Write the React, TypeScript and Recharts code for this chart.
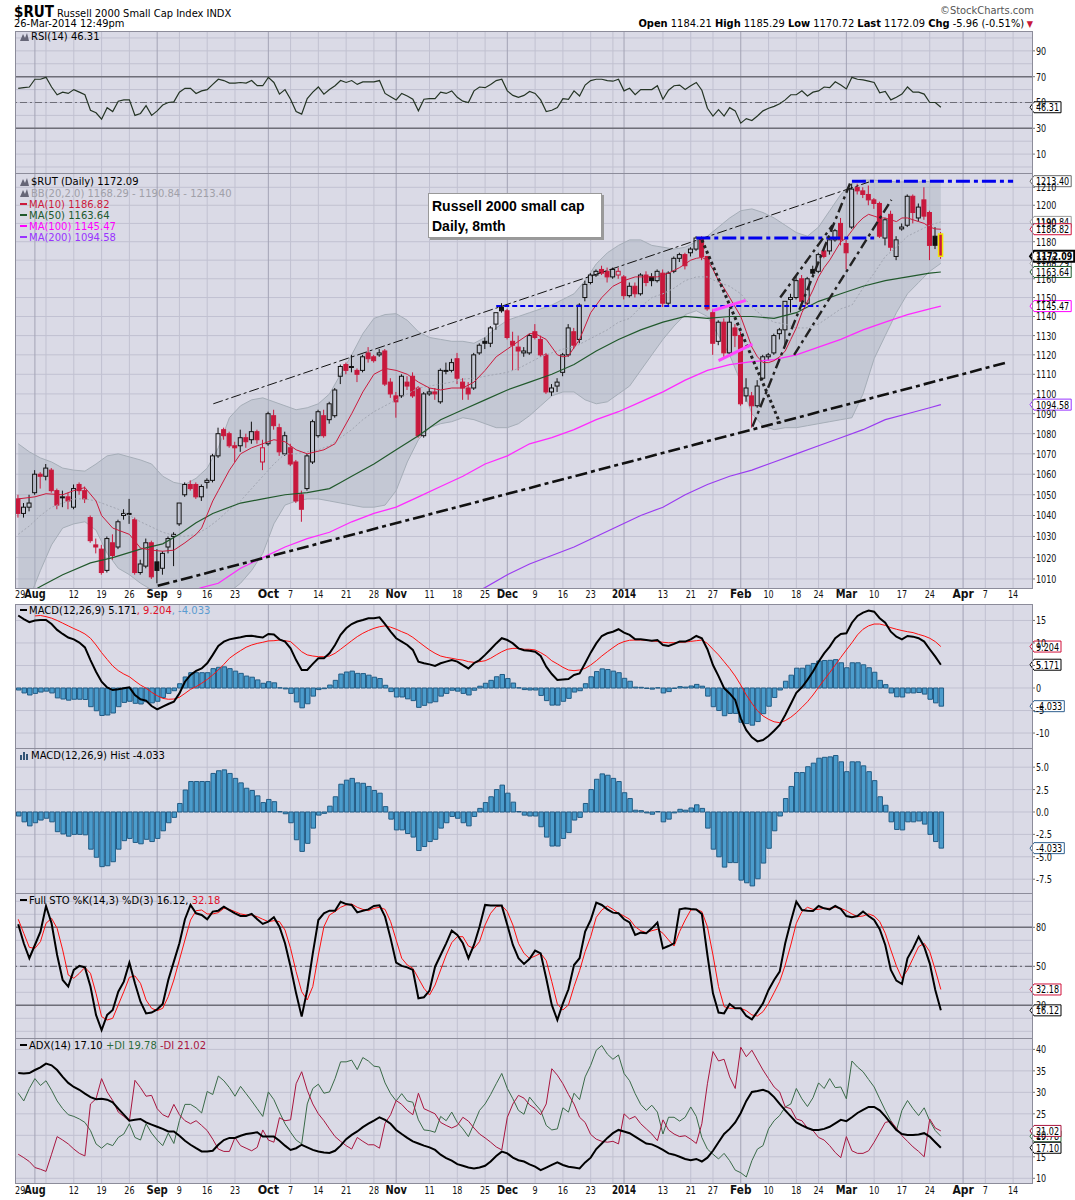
import React from 'react';
import {
  ComposedChart, Line, Bar, Area, XAxis, YAxis, CartesianGrid, ReferenceLine,
} from 'recharts';

const NARROW = '"Liberation Sans Narrow", "DejaVu Sans Condensed", "Arial Narrow", sans-serif';
const VERD = '"DejaVu Sans", Verdana, sans-serif';
const BG = '#dadae6';
const GRID = '#c1c1d1';
const GRID_MONTH = '#a3a3b5';
const BORDER = '#8c8c9a';
const RED = '#c8183c';

const W = 1075;
const LEFT = 16;
const AXIS_W = 43;
const X_DOMAIN: [number, number] = [-0.4, 182.4];

// x axis: trading-day index (0 = 29 Jul 2013, 166 = 26 Mar 2014), label, month start
const xLabels: [number, string, boolean][] = [
  [0, '29', false], [3, 'Aug', true], [10, '12', false], [15, '19', false], [20, '26', false],
  [25, 'Sep', true], [29, '9', false], [34, '16', false], [39, '23', false],
  [45, 'Oct', true], [49, '7', false], [54, '14', false], [59, '21', false], [64, '28', false],
  [68, 'Nov', true], [74, '11', false], [79, '18', false], [84, '25', false],
  [88, 'Dec', true], [93, '9', false], [98, '16', false], [103, '23', false],
  [109, '2014', true], [116, '13', false], [121, '21', false], [125, '27', false],
  [130, 'Feb', true], [135, '10', false], [140, '18', false], [144, '24', false],
  [149, 'Mar', true], [154, '10', false], [159, '17', false], [164, '24', false],
  [170, 'Apr', true], [174, '7', false], [179, '14', false],
];
const extraWeekLines = [5, 107];

// daily OHLC
const opens = [
  1048, 1041, 1044, 1051, 1060, 1059, 1062, 1052, 1049, 1049,
  1044, 1055, 1052, 1039, 1026, 1024, 1014, 1027, 1025, 1040,
  1041, 1038, 1013, 1016, 1027, 1018, 1015, 1025, 1030, 1036,
  1050, 1055, 1055, 1049, 1056, 1057, 1069, 1082, 1080, 1074,
  1074, 1078, 1077, 1081, 1066, 1075, 1089, 1083, 1070, 1073,
  1066, 1050, 1053, 1066, 1079, 1089, 1087, 1089, 1109, 1115,
  1114, 1112, 1112, 1121, 1119, 1120, 1122, 1106, 1099, 1099,
  1106, 1109, 1103, 1079, 1100, 1101, 1096, 1112, 1112, 1118,
  1106, 1103, 1103, 1121, 1127, 1126, 1136, 1145, 1143, 1127,
  1124, 1121, 1121, 1132, 1128, 1120, 1101, 1104, 1111, 1120,
  1132, 1128, 1150, 1158, 1162, 1165, 1164, 1161, 1162, 1161,
  1151, 1156, 1152, 1162, 1161, 1159, 1163, 1147, 1164, 1171,
  1173, 1174, 1176, 1182, 1172, 1142, 1127, 1137, 1121, 1134,
  1130, 1099, 1099, 1094, 1108, 1119, 1121, 1131, 1133, 1149,
  1150, 1160, 1147, 1165, 1164, 1175, 1175, 1181, 1190, 1179,
  1188, 1210, 1208, 1206, 1203, 1201, 1182, 1195, 1172, 1187,
  1189, 1205, 1193, 1203, 1196, 1183, 1184.21,
];
const highs = [
  1050, 1046, 1050, 1062, 1061, 1065, 1063, 1053, 1052, 1051,
  1055, 1056, 1054, 1040, 1029, 1026, 1030, 1031, 1038, 1043,
  1048, 1039, 1019, 1029, 1028, 1024, 1023, 1030, 1032, 1046,
  1056, 1057, 1056, 1055, 1058, 1070, 1083, 1083, 1081, 1076,
  1082, 1080, 1086, 1082, 1077, 1091, 1092, 1085, 1081, 1075,
  1067, 1052, 1070, 1087, 1092, 1092, 1096, 1103, 1115, 1116,
  1120, 1113, 1120, 1124, 1120, 1123, 1123, 1108, 1101, 1110,
  1109, 1111, 1104, 1101, 1103, 1103, 1113, 1116, 1118, 1121,
  1108, 1106, 1121, 1126, 1129, 1135, 1142, 1147, 1144, 1132,
  1130, 1124, 1131, 1136, 1130, 1121, 1105, 1108, 1121, 1136,
  1134, 1147, 1159, 1163, 1165, 1167, 1166, 1166, 1166, 1162,
  1158, 1158, 1163, 1164, 1163, 1165, 1165, 1164, 1172, 1174,
  1174, 1177, 1183, 1183, 1172, 1144, 1138, 1139, 1144, 1136,
  1132, 1108, 1101, 1107, 1120, 1121, 1131, 1134, 1148, 1152,
  1162, 1162, 1161, 1167, 1174, 1176, 1182, 1187, 1193, 1181,
  1212, 1212, 1210, 1211, 1204, 1202, 1193, 1197, 1183, 1190,
  1206, 1206, 1201, 1210, 1197, 1188, 1185.29,
];
const lows = [
  1039, 1039, 1042, 1050, 1053, 1057, 1051, 1043, 1044, 1043,
  1043, 1050, 1046, 1027, 1022, 1012, 1013, 1019, 1024, 1038,
  1036, 1012, 1012, 1015, 1010, 1008, 1012, 1022, 1016, 1035,
  1049, 1052, 1048, 1047, 1053, 1056, 1068, 1077, 1073, 1066,
  1071, 1073, 1075, 1075, 1062, 1074, 1082, 1069, 1069, 1064,
  1046, 1037, 1052, 1065, 1078, 1078, 1085, 1088, 1105, 1110,
  1111, 1106, 1111, 1116, 1116, 1119, 1104, 1098, 1088, 1098,
  1102, 1098, 1078, 1078, 1099, 1097, 1095, 1110, 1111, 1105,
  1097, 1097, 1102, 1120, 1123, 1124, 1133, 1142, 1128, 1112,
  1112, 1119, 1120, 1128, 1119, 1100, 1099, 1101, 1109, 1119,
  1123, 1126, 1148, 1157, 1161, 1162, 1158, 1160, 1160, 1149,
  1150, 1150, 1151, 1156, 1156, 1158, 1145, 1146, 1163, 1169,
  1165, 1172, 1175, 1170, 1143, 1120, 1125, 1119, 1120, 1124,
  1094, 1096, 1083, 1093, 1107, 1117, 1120, 1128, 1125, 1142,
  1149, 1147, 1146, 1162, 1163, 1171, 1173, 1180, 1178, 1165,
  1187, 1206, 1204, 1200, 1198, 1182, 1178, 1175, 1170, 1186,
  1188, 1190, 1191, 1192, 1170, 1176, 1170.72,
];
const closes = [
  1041, 1044, 1046, 1060, 1059, 1063, 1052, 1045, 1049, 1047,
  1053, 1052, 1048, 1028, 1025, 1013, 1029, 1021, 1037, 1041,
  1041, 1013, 1017, 1027, 1011, 1014, 1022, 1029, 1031, 1046,
  1055, 1053, 1049, 1054, 1057, 1069, 1080, 1079, 1074, 1073,
  1078, 1076, 1081, 1077, 1073, 1090, 1084, 1071, 1079, 1065,
  1047, 1043, 1069, 1086, 1091, 1079, 1095, 1102, 1114, 1112,
  1114, 1110, 1119, 1118, 1117, 1121, 1105, 1100, 1096, 1109,
  1104, 1099, 1079, 1100, 1101, 1100, 1112, 1112, 1116, 1108,
  1103, 1100, 1120, 1125, 1126, 1134, 1142, 1143, 1129, 1125,
  1122, 1122, 1130, 1129, 1120, 1101, 1103, 1106, 1120, 1134,
  1125, 1146, 1157, 1162, 1164, 1163, 1161, 1165, 1164, 1151,
  1156, 1152, 1162, 1158, 1159, 1164, 1147, 1163, 1171, 1173,
  1167, 1176, 1182, 1172, 1144, 1126, 1137, 1121, 1137, 1130,
  1095, 1103, 1094, 1104, 1119, 1120, 1130, 1133, 1148, 1150,
  1159, 1148, 1160, 1163, 1173, 1172, 1181, 1186, 1181, 1174,
  1209, 1208, 1206, 1203, 1201, 1183, 1192, 1177, 1181, 1188,
  1205, 1196, 1199, 1194, 1178, 1178.05, 1172.09,
];

// moving averages, read at selected sessions [index, value]
const ma10Pts: [number, number][] = [
  [0, 1048], [3, 1049], [5, 1050.5], [8, 1050], [10, 1052], [12, 1053.5], [14, 1047], [15, 1040],
  [17, 1034], [20, 1031], [22, 1024.5], [24, 1023.5], [26, 1023], [28, 1023.5], [30, 1027],
  [32, 1031], [33, 1034], [35, 1047], [36, 1052], [38, 1062], [40, 1070], [42, 1073], [44, 1075],
  [46, 1077], [48, 1076], [50, 1072], [52, 1070], [55, 1072], [57, 1075], [58, 1080], [60, 1090],
  [62, 1101], [64, 1110], [66, 1113], [68, 1112], [70, 1110], [72, 1106], [74, 1103], [76, 1102],
  [78, 1103], [80, 1103], [82, 1106], [84, 1112], [86, 1119], [88, 1123], [90, 1127], [92, 1131],
  [93, 1131], [95, 1128], [97, 1120], [98, 1119], [99, 1119.5], [101, 1128], [103, 1142],
  [105, 1150], [107, 1156], [109, 1159], [111, 1161], [113, 1161], [115, 1161], [117, 1163],
  [119, 1166], [121, 1170], [122, 1171], [123, 1171.5], [124, 1170], [125, 1165], [126, 1159],
  [127, 1155], [128, 1150], [129, 1145], [130, 1140], [131, 1132], [132, 1124], [133, 1119],
  [134, 1116], [135, 1116], [136, 1117], [137, 1119], [138, 1122], [139, 1128], [140, 1134],
  [141, 1142], [142, 1148], [143, 1154], [144, 1161], [145, 1166], [146, 1170], [147, 1175],
  [148, 1180], [149, 1182], [150, 1186], [151, 1190], [152, 1193], [153, 1195], [154, 1194],
  [155, 1193], [156, 1193], [157, 1192], [158, 1191], [159, 1193], [160, 1193], [161, 1192],
  [162, 1191], [163, 1190], [164, 1188], [165, 1187], [166, 1186.82],
];
const ma50Pts: [number, number][] = [
  [1, 1002], [4, 1006.5], [8, 1012], [13, 1017.5], [17, 1020], [22, 1024], [26, 1026.5], [29, 1031],
  [32, 1036.5], [35, 1041], [40, 1046], [44, 1048], [48, 1050], [52, 1051], [56, 1053], [58, 1056],
  [60, 1059], [64, 1065], [68, 1072], [72, 1079], [76, 1087], [80, 1092], [84, 1097], [88, 1102],
  [92, 1106], [96, 1110], [100, 1115], [104, 1122], [108, 1128], [112, 1133], [116, 1137],
  [120, 1140], [124, 1139], [128, 1140], [132, 1140], [136, 1139], [140, 1142], [144, 1148],
  [148, 1152], [152, 1156], [156, 1159], [160, 1161], [164, 1163], [166, 1163.64],
];
const ma100Pts: [number, number][] = [
  [30, 1003], [33, 1006], [36, 1008], [40, 1015], [44, 1020], [48, 1025], [52, 1029], [56, 1032],
  [60, 1037], [64, 1041], [68, 1044], [72, 1049], [76, 1054], [80, 1059], [84, 1065], [88, 1069],
  [92, 1075], [96, 1078], [100, 1082], [104, 1087], [108, 1091], [112, 1096], [116, 1101],
  [120, 1107], [124, 1112], [128, 1115], [132, 1116.5], [136, 1117.5], [140, 1120], [144, 1124],
  [148, 1128], [152, 1133], [156, 1137], [160, 1141], [164, 1144], [166, 1145.47],
];
const ma200Pts: [number, number][] = [
  [80, 1001], [84, 1006], [88, 1012], [92, 1017], [96, 1021], [100, 1025], [104, 1030], [108, 1035],
  [112, 1040], [116, 1044], [120, 1050], [124, 1055], [128, 1059], [132, 1062], [136, 1066],
  [140, 1070], [144, 1074], [148, 1078], [152, 1082], [156, 1087], [160, 1090], [164, 1093],
  [166, 1094.58],
];

// Bollinger bands (20,2) read every other session: index = 0, 2, 4 ... 166
const bbUpper = [
  1075, 1071, 1068, 1066, 1063, 1062, 1061.5, 1065, 1069, 1070, 1068.5, 1067, 1065, 1059, 1056,
  1055, 1058, 1063, 1073, 1088, 1094, 1097, 1098, 1096, 1094, 1092, 1093, 1095, 1100, 1110,
  1120, 1131, 1139, 1141, 1141.5, 1138, 1132, 1129, 1128, 1127, 1127, 1126, 1129, 1134, 1138,
  1140, 1142, 1144, 1146, 1149, 1152, 1159, 1168, 1174, 1178, 1181, 1181, 1178, 1177, 1176,
  1177, 1180, 1183, 1188, 1193, 1197, 1198, 1196, 1193, 1189, 1185, 1183, 1188, 1197, 1206,
  1212, 1214, 1214, 1213.5, 1213, 1213, 1213, 1213.2, 1213.4,
];
const bbLower = [
  990, 1001, 1014, 1026, 1034, 1036, 1037, 1033, 1022, 1015, 1012, 1008, 1005, 1002, 1001,
  1001, 1002, 1002, 1003, 1004, 1008, 1014, 1022, 1036, 1045, 1047, 1048, 1048, 1047, 1046,
  1045, 1044, 1044, 1045, 1052, 1066, 1077, 1083, 1085, 1086, 1088, 1087, 1085, 1083, 1083,
  1085, 1089, 1094, 1099, 1101, 1101, 1097, 1095, 1096, 1100, 1104, 1112, 1120, 1128, 1135,
  1141, 1143, 1140, 1130, 1120, 1106, 1090, 1084, 1082, 1083, 1083, 1084, 1085, 1086, 1087,
  1088, 1100, 1118, 1130, 1142, 1152, 1158, 1164, 1168.29,
];
const bbMid = [
  1031, 1035, 1040, 1044, 1046, 1048, 1048, 1047, 1045, 1043, 1040, 1037, 1034.5, 1032, 1030.5,
  1030, 1031, 1034, 1038, 1043, 1047, 1053, 1059, 1065, 1070, 1070, 1071, 1072, 1074, 1078,
  1082, 1087, 1091, 1094, 1097, 1100, 1103, 1104, 1105, 1106, 1107.5, 1108, 1109, 1110, 1111,
  1113, 1116, 1119, 1121, 1123, 1124, 1127, 1130, 1133, 1137, 1139, 1145, 1150, 1152, 1155,
  1159, 1161, 1161, 1158, 1156, 1152, 1145, 1140, 1137, 1136, 1134, 1134, 1136, 1140, 1144,
  1146, 1155, 1163, 1172, 1177, 1183, 1186, 1189, 1190.84,
];

const rsi = [
  61, 61.5, 62, 68, 68, 69.5, 62, 56, 58, 57,
  60, 58, 56, 44, 42, 37, 46, 43, 51, 52,
  52, 40, 41.5, 47.5, 40, 43.5, 48, 50, 50.5, 58,
  61, 61, 57, 59, 60, 64, 68, 67, 65, 65,
  65.5, 65, 67, 63, 63, 69.5, 65.5, 56.5, 60, 52.5,
  43, 41, 53, 58, 62, 56.5, 60, 63, 67, 65.5,
  67, 64, 66, 66, 66, 67, 57, 54.5, 52, 57,
  55, 52.5, 43.5, 52.5, 53, 53, 58, 57, 59, 54,
  51, 50, 59, 62, 61.5, 64, 67, 68, 59, 55.5,
  54, 55.5, 58.5, 57, 52, 43, 44, 46, 53, 52.5,
  59, 55, 63.5, 67, 68, 68, 67, 66.5, 68, 59,
  61, 56, 60, 60, 60, 63, 52.5, 59.5, 63, 63.5,
  60, 63, 65.5, 59.5, 45.5, 39.5, 44.5, 39.5, 46, 43.5,
  34, 37.5, 36, 39.5, 43.5, 45.5, 47, 49, 52, 56,
  56, 59, 55, 58, 59, 62, 61.5, 66, 63.5, 60.5,
  69.5, 68, 67.5, 66.5, 65.5, 57.5, 58.5, 52, 54, 56.5,
  62, 58, 58, 56.5, 50, 50, 46.31,
];

const macd = [
  16.1, 15.3, 14.6, 15.0, 15.1, 15.1, 14.2, 12.9, 12.0, 11.2,
  10.8, 10.1, 9.0, 6.2, 3.6, 1.4, 0.15, -0.45, -0.3, -0.05,
  0.15, -1.55, -2.5, -2.8, -4.0, -4.75, -4.15, -3.55, -3.05, -1.2,
  1.4, 2.9, 3.8, 4.35, 5.5, 7.35, 9.35, 10.3, 10.8, 11.05,
  11.25, 11.55, 11.6, 11.4, 11.2, 12.0, 11.9, 10.8, 10.3, 8.8,
  6.2, 4.0, 4.0, 5.35, 6.6, 6.6, 7.7, 9.55, 11.8, 13.25,
  14.2, 14.75, 15.1, 15.5, 15.5, 15.7, 14.2, 12.5, 11.05, 10.3,
  9.55, 8.45, 5.85, 5.5, 5.25, 4.9, 5.5, 5.85, 6.2, 5.85,
  5.1, 4.35, 5.5, 6.2, 7.35, 8.6, 9.9, 11.05, 10.65, 9.9,
  8.8, 8.4, 8.25, 8.05, 7.1, 4.75, 3.1, 1.8, 1.9, 2.0,
  2.9, 3.25, 5.5, 7.85, 9.9, 11.55, 12.15, 12.5, 13.05, 12.3,
  11.8, 10.8, 10.8, 10.65, 10.5, 10.65, 9.55, 9.35, 9.8, 10.3,
  10.3, 10.8, 11.55, 11.05, 8.6, 5.1, 2.65, -0.05, -1.2, -2.65,
  -6.75, -9.35, -10.95, -11.85, -11.55, -10.65, -9.5, -8.2, -6.0, -3.55,
  -1.05, 0.15, 1.8, 3.65, 5.85, 7.7, 9.2, 11.05, 12.0, 12.15,
  14.5, 16.0, 16.75, 17.2, 16.95, 15.5, 14.5, 12.5, 11.4, 10.8,
  11.55, 11.4, 11.05, 10.3, 8.6, 6.95, 5.171,
];
const signal = [
  null, null, null, 16.0, 16.1, 15.85, 15.5, 15.0, 14.4, 13.8,
  13.2, 12.65, 12.0, 11.05, 9.55, 7.85, 6.35, 4.9, 3.85, 3.1,
  2.5, 1.55, 0.65, -0.05, -0.95, -1.7, -2.3, -2.5, -2.45, -2.05,
  -1.2, -0.3, 0.3, 1.05, 1.9, 2.9, 4.0, 5.25, 6.6, 7.5,
  8.3, 9.05, 9.55, 9.9, 10.15, 10.45, 10.5, 10.65, 10.5, 10.3,
  9.2, 8.05, 7.35, 7.1, 6.95, 6.95, 7.1, 7.7, 8.6, 9.55,
  10.5, 11.4, 12.15, 12.75, 13.25, 13.6, 13.8, 13.5, 13.05, 12.5,
  12.0, 11.25, 10.3, 9.35, 8.45, 7.7, 7.1, 6.8, 6.6, 6.35,
  6.2, 5.85, 5.7, 5.85, 6.05, 6.6, 7.35, 8.05, 8.6, 8.8,
  8.8, 8.6, 8.6, 8.45, 7.85, 7.1, 6.05, 5.35, 4.6, 4.0,
  3.85, 4.0, 4.35, 5.1, 6.05, 7.1, 8.05, 8.95, 9.8, 10.3,
  10.6, 10.65, 10.65, 10.6, 10.45, 10.35, 10.15, 10.05, 10.05, 10.15,
  10.2, 10.35, 10.5, 10.65, 9.9, 8.6, 7.35, 5.85, 4.35, 2.65,
  0.65, -1.55, -3.4, -5.05, -6.2, -6.95, -7.5, -7.7, -7.25, -6.5,
  -5.5, -4.3, -3.05, -1.55, 0.15, 1.8, 3.4, 5.1, 6.8, 8.45,
  10.05, 11.8, 13.05, 13.8, 14.2, 14.2, 13.9, 13.4, 13.05, 12.75,
  12.5, 12.3, 11.9, 11.55, 11.05, 10.3, 9.204,
];
const hist = [
  -0.45, -1.1, -1.55, -1.2, -0.9, -0.7, -1.1, -2.2, -2.45, -2.7,
  -2.5, -2.5, -2.55, -4.15, -5.05, -6.1, -6.0, -5.55, -4.15, -3.2,
  -2.95, -3.4, -3.55, -3.05, -3.3, -2.95, -2.1, -1.2, -0.6, 0.95,
  2.45, 3.4, 3.4, 3.4, 3.4, 4.3, 4.6, 4.7, 4.3, 3.75,
  3.25, 2.65, 2.4, 1.8, 1.05, 1.4, 1.15, 0.05, -0.2, -1.2,
  -3.1, -4.4, -3.5, -1.8, -0.35, -0.15, 0.65, 1.7, 3.1, 3.55,
  3.75, 3.25, 3.2, 2.85, 2.4, 2.1, 0.6, -0.8, -2.0, -2.0,
  -2.4, -2.8, -4.3, -3.85, -3.3, -3.05, -1.8, -1.2, -0.5, -0.7,
  -1.2, -1.55, -0.5, 0.4, 1.05, 1.7, 2.5, 3.0, 2.1, 1.1,
  0.05, -0.35, -0.45, -0.45, -1.65, -2.8, -3.8, -3.8, -2.95, -2.3,
  -0.9, -0.6, 0.95, 2.5, 3.65, 4.25, 4.1, 3.75, 3.4, 2.15,
  1.5, 0.2, 0.15, -0.1, -0.25, 0.05, -1.1, -0.8, -0.1, 0.3,
  0.2, 0.45, 0.8, 0.4, -1.8, -4.15, -5.0, -6.15, -5.65, -5.65,
  -7.6, -7.9, -8.25, -7.45, -5.7, -4.05, -2.1, -0.45, 1.5, 2.85,
  4.4, 4.4, 5.05, 5.45, 6.0, 6.1, 6.15, 6.3, 5.6, 4.5,
  5.6, 5.6, 5.15, 4.5, 3.5, 1.7, 0.75, -1.1, -1.95, -2.0,
  -1.1, -1.1, -1.0, -1.35, -2.5, -3.3, -4.033,
];

const stoK = [
  82.3, 67.7, 56.2, 66.4, 76.7, 96.4, 83.1, 58.7, 39.5, 34.4,
  47.2, 50.3, 49.2, 34.4, 12.6, 1.0, 12.6, 16.4, 30.5, 38.2,
  52.8, 36.9, 22.8, 13.8, 14.4, 16.9, 21.0, 39.5, 53.6, 67.7,
  86.2, 97.2, 90.8, 89.5, 86.2, 92.1, 92.8, 95.9, 93.3, 90.8,
  88.7, 88.7, 90.3, 86.2, 82.6, 84.4, 87.7, 80.5, 67.7, 49.7,
  29.2, 11.3, 31.8, 60.0, 85.6, 90.8, 92.8, 92.8, 99.7, 97.9,
  97.2, 91.5, 92.8, 93.8, 96.4, 96.9, 88.2, 71.5, 52.8, 50.3,
  49.2, 47.2, 25.4, 26.2, 31.3, 49.7, 58.7, 67.7, 77.4, 74.1,
  67.7, 56.2, 66.4, 80.5, 97.2, 96.7, 96.7, 96.7, 81.8, 66.4,
  56.2, 51.8, 55.8, 62.1, 60.0, 40.8, 20.3, 8.7, 21.5, 32.3,
  51.0, 56.2, 76.7, 85.6, 99.0, 97.2, 93.8, 91.3, 90.8, 86.2,
  83.8, 74.1, 75.9, 75.4, 79.2, 83.6, 63.8, 65.6, 67.7, 93.8,
  94.6, 94.1, 93.8, 90.3, 58.7, 29.2, 14.4, 13.8, 21.0, 17.7,
  17.7, 11.8, 9.2, 15.1, 21.5, 31.8, 39.5, 45.9, 67.7, 84.4,
  99.7, 93.3, 92.8, 92.6, 96.4, 94.6, 93.8, 96.4, 94.1, 88.7,
  87.7, 88.7, 92.1, 88.7, 85.6, 78.5, 66.4, 47.2, 39.0, 36.4,
  56.2, 63.8, 72.8, 65.1, 52.3, 31.8, 16.12,
];
const stoD = [
  86.2, 75.4, 64.6, 63.8, 69.0, 83.1, 86.9, 79.2, 62.6, 43.3,
  40.8, 44.6, 49.2, 44.6, 29.2, 11.3, 8.7, 10.0, 20.3, 30.5,
  41.5, 42.6, 36.9, 24.1, 17.7, 15.9, 17.7, 26.7, 39.5, 54.9,
  70.3, 85.6, 92.8, 93.3, 90.3, 90.3, 91.3, 94.6, 93.8, 92.1,
  90.3, 89.5, 89.5, 88.2, 86.2, 84.4, 85.1, 84.4, 77.9, 63.8,
  45.9, 30.5, 24.1, 34.4, 58.7, 80.5, 89.5, 92.1, 95.4, 97.2,
  97.9, 95.4, 93.8, 92.8, 94.6, 95.4, 93.8, 84.4, 70.3, 56.2,
  51.0, 48.5, 40.8, 33.1, 27.9, 35.6, 47.2, 58.7, 68.2, 72.8,
  72.8, 65.6, 63.8, 69.0, 81.8, 90.8, 95.9, 96.7, 92.1, 81.8,
  67.7, 60.0, 56.0, 57.9, 60.0, 54.4, 38.2, 21.0, 16.4, 20.3,
  34.4, 46.7, 61.3, 72.8, 87.7, 93.3, 96.4, 93.8, 90.8, 88.7,
  86.2, 80.5, 77.4, 75.9, 77.4, 78.5, 75.4, 70.3, 65.6, 76.7,
  85.6, 93.3, 93.8, 92.1, 80.5, 58.7, 34.4, 19.0, 17.7, 17.7,
  17.7, 15.9, 12.6, 11.8, 15.1, 21.5, 29.7, 38.2, 51.0, 66.4,
  83.1, 92.1, 95.4, 93.8, 93.8, 94.6, 94.6, 95.4, 94.6, 92.8,
  90.3, 88.2, 88.7, 90.3, 88.7, 84.4, 75.4, 62.6, 50.3, 40.8,
  47.2, 56.2, 65.1, 67.7, 61.3, 47.2, 32.18,
];

const adx = [
  34.5, 34.4, 34.5, 35.2, 35.8, 36.7, 36.3, 35.2, 33.6, 32.2,
  31.25, 30.6, 29.7, 28.9, 28.4, 28.5, 28.3, 27.7, 26.2, 24.8,
  23.4, 23.6, 23.8, 23.0, 22.5, 22.0, 21.5, 20.9, 20.9, 19.9,
  18.75, 17.8, 17.0, 16.25, 16.25, 16.4, 17.8, 18.9, 19.4, 19.4,
  19.9, 20.3, 20.5, 20.7, 19.7, 19.7, 19.7, 18.75, 17.6, 16.6,
  17.0, 17.8, 17.2, 16.6, 16.25, 16.0, 15.9, 16.4, 17.6, 19.1,
  20.1, 20.9, 21.9, 22.7, 23.4, 24.2, 23.6, 22.7, 21.25, 20.3,
  19.4, 18.6, 18.1, 17.6, 17.2, 16.6, 15.5, 14.7, 14.1, 13.3,
  12.9, 12.5, 12.3, 12.5, 12.9, 13.9, 15.2, 16.2, 15.8, 14.8,
  14.2, 13.9, 13.25, 12.7, 11.9, 12.5, 13.1, 13.7, 13.1, 12.7,
  12.5, 12.3, 13.7, 14.8, 16.8, 18.1, 19.4, 20.5, 21.25, 20.9,
  20.5, 19.7, 18.9, 18.1, 17.9, 17.3, 16.6, 15.8, 15.5, 15.0,
  14.5, 14.2, 14.5, 13.9, 14.8, 16.4, 18.4, 20.3, 21.5, 23.0,
  25.2, 28.0, 30.1, 30.3, 30.6, 30.1, 28.9, 27.3, 25.8, 24.4,
  23.0, 22.3, 21.7, 21.25, 21.25, 21.5, 22.0, 22.8, 23.6, 23.3,
  24.2, 25.2, 25.9, 26.6, 26.6, 25.8, 24.4, 22.8, 21.25, 20.3,
  20.1, 20.1, 20.2, 20.5, 19.7, 18.4, 17.1,
];
const plusDI = [
  29.8, 28.0, 30.9, 33.2, 31.6, 32.7, 30.5, 28.0, 26.2, 24.8,
  24.4, 23.8, 23.0, 21.1, 18.0, 17.0, 18.1, 17.6, 19.5, 20.3,
  22.7, 19.5, 18.9, 22.7, 20.5, 18.9, 17.6, 20.5, 18.1, 23.4,
  27.2, 27.2, 26.4, 25.2, 30.2, 29.5, 33.8, 32.7, 31.1, 29.1,
  31.4, 29.7, 28.0, 26.2, 24.4, 30.1, 28.3, 25.4, 22.7, 20.7,
  18.9, 18.0, 27.3, 30.9, 31.9, 29.8, 30.1, 33.2, 37.1, 37.1,
  37.5, 35.3, 38.1, 37.3, 36.1, 35.9, 32.2, 29.7, 28.0, 29.7,
  28.0, 27.7, 23.6, 21.25, 21.1, 20.7, 24.4, 23.4, 25.4, 23.0,
  21.5, 19.7, 22.7, 25.8, 27.3, 29.5, 32.0, 34.4, 30.9, 28.5,
  25.8, 24.9, 28.9, 27.3, 25.8, 22.3, 21.25, 21.5, 26.4, 25.4,
  29.8, 28.3, 33.6, 36.3, 39.8, 40.9, 38.9, 37.7, 38.7, 34.4,
  32.7, 29.7, 27.2, 25.8, 27.0, 25.4, 20.3, 24.2, 24.2, 23.3,
  24.2, 26.6, 24.4, 19.5, 16.8, 15.6, 14.5, 15.8, 14.1, 11.9,
  11.3, 10.3, 14.1, 16.8, 17.6, 21.5, 23.4, 24.6, 26.6, 27.3,
  30.9, 28.5, 26.7, 28.75, 32.2, 30.9, 33.2, 31.1, 31.25, 28.5,
  37.3, 35.9, 34.8, 33.0, 31.25, 28.5, 25.8, 23.4, 21.1, 25.8,
  28.1, 26.2, 24.6, 26.4, 23.4, 21.1, 19.78,
];
const minusDI = [
  15.6, 14.8, 13.9, 12.5, 12.1, 11.6, 15.6, 19.7, 18.9, 18.0,
  16.8, 15.8, 15.2, 27.3, 28.5, 33.2, 30.1, 28.1, 25.4, 24.4,
  23.3, 32.8, 31.1, 29.1, 29.3, 26.2, 24.8, 24.2, 27.2, 24.8,
  23.4, 22.7, 23.4, 22.3, 21.1, 19.1, 16.8, 16.25, 16.25, 19.5,
  17.6, 17.0, 16.4, 17.2, 21.25, 18.9, 18.4, 24.1, 23.4, 23.6,
  32.0, 34.8, 30.5, 27.3, 25.0, 23.4, 21.5, 19.7, 18.6, 17.6,
  16.8, 19.5, 18.6, 17.8, 17.8, 17.0, 22.8, 24.8, 28.1, 27.2,
  25.8, 24.8, 29.8, 26.2, 25.6, 25.0, 23.0, 22.3, 21.7, 22.3,
  24.2, 23.3, 21.7, 20.3, 19.4, 18.4, 17.3, 16.6, 24.2, 27.3,
  29.3, 28.65, 27.1, 26.2, 24.8, 27.3, 35.5, 34.0, 32.0, 29.5,
  27.3, 24.2, 23.0, 20.2, 19.1, 18.6, 18.4, 18.6, 18.0, 25.0,
  23.8, 24.4, 22.7, 21.5, 20.3, 18.75, 23.6, 21.25, 20.3, 19.7,
  19.9, 19.1, 18.1, 22.7, 32.0, 39.5, 37.3, 37.7, 33.6, 30.9,
  40.5, 38.3, 39.8, 37.5, 35.2, 33.2, 31.25, 30.1, 26.6, 26.2,
  23.8, 23.4, 21.7, 21.1, 19.5, 18.9, 17.6, 16.0, 14.8, 19.7,
  16.4, 15.8, 15.8, 16.4, 18.4, 20.7, 23.0, 23.3, 21.7, 19.9,
  18.6, 17.3, 16.25, 15.0, 23.8, 21.7, 21.02,
];

// hand-drawn annotations on the price panel (session index, price)
const trendLines = [
  { a: [35.1, 1095], b: [153.1, 1213], color: '#111', w: 1, dash: '10 3 3 3' },
  { a: [25.1, 1006.8], b: [177.8, 1116], color: '#111', w: 2.6, dash: '12 4 4 4' },
  { a: [150, 1213.4], b: [179, 1213.4], color: '#0000ee', w: 3, dash: '14 4 4 4' },
  { a: [122, 1182], b: [154, 1182], color: '#0000ee', w: 3, dash: '14 4 4 4' },
  { a: [86, 1145.5], b: [144, 1145.5], color: '#0000ee', w: 2, dash: '5 3' },
  { a: [123, 1181], b: [137.1, 1085], color: '#222', w: 3, dash: '3 3' },
  { a: [132.1, 1083.5], b: [149.9, 1214], color: '#222', w: 2.4, dash: '10 4 3 4' },
  { a: [137.1, 1150], b: [146.5, 1189], color: '#222', w: 2.4, dash: '10 4 3 4' },
  { a: [139.6, 1120], b: [157.1, 1203], color: '#222', w: 2.4, dash: '10 4 3 4' },
  { a: [124.9, 1143], b: [130.9, 1148.5], color: '#ff44ff', w: 3, dash: undefined },
  { a: [126, 1117], b: [132.1, 1125.6], color: '#ff44ff', w: 3, dash: undefined },
];

const priceTicks = [1010, 1020, 1030, 1040, 1050, 1060, 1070, 1080, 1090, 1100, 1110, 1120, 1130,
  1140, 1150, 1160, 1170, 1180, 1190, 1200, 1210];

// ---------- derived tables ----------
const rows = closes.map((c, i) => ({
  i, o: opens[i], h: highs[i], l: lows[i], c, pc: i > 0 ? closes[i - 1] : undefined,
  rsi: rsi[i], macd: macd[i], sig: signal[i], hist: hist[i],
  k: stoK[i], d: stoD[i], adx: adx[i], pdi: plusDI[i], mdi: minusDI[i],
}));
const bbRows = bbUpper.map((u, k) => ({ i: k * 2, u, lo: bbLower[k], mid: bbMid[k] }));
const toRows = (pts: [number, number][]) => pts.map(([i, v]) => ({ i, v }));
const ma10Rows = toRows(ma10Pts);
const ma50Rows = toRows(ma50Pts);
const ma100Rows = toRows(ma100Pts);
const ma200Rows = toRows(ma200Pts);

const labelMap: Record<number, { t: string; bold: boolean }> = {};
xLabels.forEach(([i, t, bold]) => { labelMap[i] = { t, bold }; });
const tickIdx = xLabels.map((x) => x[0]);
const monthLines = xLabels.filter((x) => x[2]).map((x) => x[0]);
const weekLines = [...xLabels.filter((x) => !x[2] && x[0] > 0).map((x) => x[0]), ...extraWeekLines];

const P = {
  rsi: { top: 31, h: 142, dom: [-4.65, 105.4] },
  price: { top: 173, h: 415, dom: [1005.8, 1218] },
  macd: { top: 604, h: 144, dom: [-13.32, 18.65] },
  hist: { top: 748, h: 145, dom: [-9.04, 7.14] },
  sto: { top: 893, h: 145, dom: [-5.15, 106.4] },
  adx: { top: 1038, h: 145, dom: [8.67, 42.65] },
};

// width of a string in a narrow 11px face (the page has no narrow font, so glyphs are squeezed)
const narrowLen = (s: string, bold = false) => {
  let w = 0;
  for (const ch of s) {
    if (ch === '.') w += 2.6;
    else if (ch === '-') w += 3.3;
    else if (/[0-9]/.test(ch)) w += bold ? 5.6 : 5.1;
    else w += bold ? 6.6 : 5.2;
  }
  return w;
};

const XTick = (props: any) => {
  const { x, y, payload } = props;
  const t = labelMap[payload.value];
  if (!t) return null;
  return (
    <text x={payload.value === 0 ? x + 2 : x} y={y + 10} textAnchor="middle" fontFamily={NARROW}
      fontSize={t.bold ? 12.5 : 11} fontWeight={t.bold ? 'bold' : 'normal'} fill="#111"
      textLength={narrowLen(t.t, t.bold) * (t.bold ? 1.08 : 1)} lengthAdjust="spacingAndGlyphs">{t.t}</text>
  );
};

const yTick = (fmt: (v: number) => string) => (props: any) => {
  const { x, y, payload } = props;
  const s = fmt(payload.value);
  return (
    <text x={x} y={y} dy="0.36em" textAnchor="start" fontSize={11} fontFamily={NARROW} fill="#111"
      textLength={narrowLen(s)} lengthAdjust="spacingAndGlyphs">{s}</text>
  );
};

const xAxis = (show: boolean) => (
  <XAxis key="x" dataKey="i" type="number" domain={X_DOMAIN} allowDataOverflow ticks={tickIdx}
    interval={0} hide={!show} height={show ? 16 : 0} tick={XTick} tickLine={false} axisLine={false}
    tickSize={0} tickMargin={0} />
);

const yAxis = (dom: number[], ticks: number[], fmt: (v: number) => string, log = false) => (
  <YAxis key="y" orientation="right" width={AXIS_W} type="number" domain={dom as any} allowDataOverflow
    ticks={ticks} interval={0} scale={log ? 'log' : 'auto'} tick={yTick(fmt)} tickSize={3} tickMargin={1}
    axisLine={false} tickLine={{ stroke: '#777' }} />
);

const grids = (hValues: number[]) => [
  <CartesianGrid key="g1" horizontalValues={hValues} verticalValues={weekLines} stroke={GRID}
    fill={BG} fillOpacity={1} />,
  <CartesianGrid key="g2" horizontal={false} verticalValues={monthLines} stroke={GRID_MONTH} />,
];

const tagLabel = (text: string, color: string, bold = false) => (props: any) => {
  const vb = props.viewBox || {};
  const x0 = (vb.x ?? 0) + (vb.width ?? 0) - 2;
  const y = vb.y ?? 0;
  const tl = narrowLen(text, bold);
  const w = tl + 4;
  const hh = 5.5;
  const pts = `${x0},${y} ${x0 + 4},${y - hh} ${x0 + 4 + w},${y - hh} ${x0 + 4 + w},${y + hh} ${x0 + 4},${y + hh}`;
  return (
    <g>
      <polygon points={pts} fill="#fff" stroke={color} strokeWidth={bold ? 2 : 1} />
      <text x={x0 + 6} y={y + 4} fontSize={11} fontFamily={NARROW} fontWeight={bold ? 'bold' : 'normal'}
        fill="#000" textLength={tl} lengthAdjust="spacingAndGlyphs">{text}</text>
    </g>
  );
};

const tags = (list: [number, string, string, boolean?][]) => list.map(([v, t, c, b]) => (
  <ReferenceLine key={'tag' + t + c} y={v} stroke="none" ifOverflow="visible" label={tagLabel(t, c, !!b)} />
));

const Candle = (props: any) => {
  const { x, y, width, height, payload } = props;
  if (!payload || payload.h == null) return null;
  const { o, h, l, c, pc, i } = payload;
  const top = Math.min(y, y + height);
  const bot = Math.max(y, y + height);
  const span = Math.log(h) - Math.log(l);
  const py = (v: number) => (span > 0 ? top + ((Math.log(h) - Math.log(v)) / span) * (bot - top) : top);
  const down = pc == null || c < pc;
  const col = down ? RED : '#111';
  const cx = x + width / 2;
  const y1 = py(Math.max(o, c));
  const y2 = py(Math.min(o, c));
  const bh = Math.max(1, y2 - y1);
  const filled = c < o;
  const isLast = i === closes.length - 1;
  return (
    <g>
      <line x1={cx} x2={cx} y1={top} y2={y1} stroke={col} strokeWidth={1} />
      <line x1={cx} x2={cx} y1={y1 + bh} y2={bot} stroke={col} strokeWidth={1} />
      <rect x={cx - 2} y={y1} width={4} height={bh} fill={filled ? col : 'none'}
        stroke={isLast ? '#f2e600' : col} strokeWidth={isLast ? 1.5 : 1} />
    </g>
  );
};

const candleRange = (d: any) => [d.l, d.h];
const bbRange = (d: any) => [d.lo, d.u];
const fmtInt = (v: number) => String(v);
const M = { top: 0, right: 0, bottom: 0, left: LEFT };

const Frame = ({ top, h }: { top: number; h: number }) => (
  <div style={{ position: 'absolute', left: LEFT - 1, top, width: 1018, height: h + 1,
    border: `1px solid ${BORDER}`, boxSizing: 'border-box', pointerEvents: 'none' }} />
);

const Abs = ({ x, y, children, style }: any) => (
  <div style={{ position: 'absolute', left: x, top: y, whiteSpace: 'nowrap', ...style }}>{children}</div>
);

const dash = (color: string) => (
  <span style={{ display: 'inline-block', width: 7, height: 2, background: color, verticalAlign: 'middle',
    marginRight: 2, marginBottom: 2 }} />
);

const Mountain = () => (
  <svg width="9" height="9" style={{ verticalAlign: 'middle', marginRight: 2, marginBottom: 2 }}>
    <polygon points="0,9 3,2 5,6 7,1 9,9" fill="#667" />
  </svg>
);
const BarsIcon = () => (
  <svg width="9" height="9" style={{ verticalAlign: 'middle', marginRight: 2, marginBottom: 2 }}>
    <rect x="0" y="4" width="2" height="5" fill="#357" />
    <rect x="3" y="1" width="2" height="8" fill="#357" />
    <rect x="6" y="3" width="2" height="6" fill="#357" />
  </svg>
);

const lg: React.CSSProperties = { fontFamily: VERD, fontSize: 10, lineHeight: '11px', color: '#000' };

export default function App() {
  return (
    <div style={{ position: 'absolute', left: 0, top: 0, width: W, height: 1200, background: '#fff',
      overflow: 'hidden', fontFamily: NARROW }}>
      {/* header */}
      <Abs x={14} y={2} style={{ fontFamily: NARROW, color: '#000' }}>
        <span style={{ fontSize: 15, fontWeight: 'bold' }}>$RUT</span>
        <span style={{ fontSize: 11 }}> Russell 2000 Small Cap Index INDX</span>
      </Abs>
      <Abs x={14} y={17} style={{ fontFamily: NARROW, fontSize: 11 }}>26-Mar-2014 12:49pm</Abs>
      <Abs x={940} y={4} style={{ fontFamily: NARROW, fontSize: 11, color: '#555' }}>©StockCharts.com</Abs>
      <div style={{ position: 'absolute', right: W - 1033, top: 17, whiteSpace: 'nowrap', fontFamily: NARROW,
        fontSize: 11 }}>
        <b>Open</b> 1184.21 <b>High</b> 1185.29 <b>Low</b> 1170.72 <b>Last</b> 1172.09 <b>Chg</b> -5.96 (-0.51%)
        <span style={{ color: '#c8183c', fontSize: 9 }}> ▼</span>
      </div>

      {/* RSI */}
      <div style={{ position: 'absolute', left: 0, top: P.rsi.top }}>
        <ComposedChart width={W} height={P.rsi.h} data={rows} margin={M}>
          {grids([0, 10, 20, 30, 40, 50, 60, 70, 80, 90, 100])}
          {xAxis(false)}
          {yAxis(P.rsi.dom, [10, 30, 50, 70, 90], fmtInt)}
          <ReferenceLine y={70} stroke="#6e6e78" strokeWidth={1.4} />
          <ReferenceLine y={30} stroke="#6e6e78" strokeWidth={1.4} />
          <ReferenceLine y={50} stroke="#6e6e78" strokeWidth={1.2} strokeDasharray="7 3 2 3" />
          <Line dataKey="rsi" stroke="#243424" strokeWidth={1.2} dot={false} isAnimationActive={false} />
          {tags([[46.31, '46.31', '#000']])}
        </ComposedChart>
      </div>

      {/* price */}
      <div style={{ position: 'absolute', left: 0, top: P.price.top }}>
        <ComposedChart width={W} height={P.price.h + 16} data={rows} margin={M}>
          {grids(priceTicks)}
          {xAxis(true)}
          {yAxis(P.price.dom, priceTicks, fmtInt, true)}
          <Area data={bbRows} dataKey={bbRange} stroke="#a6aeb8" strokeWidth={1} fill="#a8b2be"
            fillOpacity={0.45} isAnimationActive={false} />
          <Line data={bbRows} dataKey="mid" stroke="#a2a6b2" strokeWidth={1} strokeDasharray="2 2" dot={false}
            isAnimationActive={false} />
          <Line data={ma200Rows} dataKey="v" stroke="#9a3cf0" strokeWidth={1.2} dot={false} isAnimationActive={false} />
          <Line data={ma100Rows} dataKey="v" stroke="#ff2aff" strokeWidth={1.3} dot={false} isAnimationActive={false} />
          <Line data={ma50Rows} dataKey="v" stroke="#21592c" strokeWidth={1.2} dot={false} isAnimationActive={false} />
          <Bar dataKey={candleRange} barSize={5} shape={Candle} isAnimationActive={false} />
          <Line data={ma10Rows} dataKey="v" stroke="#cc1a3c" strokeWidth={1} dot={false} isAnimationActive={false} />
          {trendLines.map((t, k) => (
            <ReferenceLine key={'tl' + k} segment={[{ x: t.a[0], y: t.a[1] }, { x: t.b[0], y: t.b[1] }]}
              stroke={t.color} strokeWidth={t.w} strokeDasharray={t.dash} ifOverflow="visible" />
          ))}
          {tags([
            [1213.4, '1213.40', '#666'],
            [1190.84, '1190.84', '#999'],
            [1186.82, '1186.82', '#d0103a'],
            [1168.29, '1168.29', '#999'],
            [1163.64, '1163.64', '#1f5a2b'],
            [1145.47, '1145.47', '#ff00ff'],
            [1094.58, '1094.58', '#9933ff'],
            [1172.09, '1172.09', '#000', true],
          ])}
        </ComposedChart>
      </div>

      {/* MACD */}
      <div style={{ position: 'absolute', left: 0, top: P.macd.top }}>
        <ComposedChart width={W} height={P.macd.h} data={rows} margin={M}>
          {grids([-10, -5, 0, 5, 10, 15])}
          {xAxis(false)}
          {yAxis(P.macd.dom, [-10, -5, 0, 5, 10, 15], fmtInt)}
          <Bar dataKey="hist" barSize={4.5} fill="#4b9ccc" stroke="#215b84" strokeWidth={1} isAnimationActive={false} />
          <Line dataKey="sig" stroke="#ff1010" strokeWidth={1} dot={false} isAnimationActive={false} />
          <Line dataKey="macd" stroke="#000" strokeWidth={2} dot={false} isAnimationActive={false} />
          {tags([[9.204, '9.204', '#d0103a'], [5.171, '5.171', '#000'], [-4.033, '-4.033', '#2f5f8f']])}
        </ComposedChart>
      </div>

      {/* MACD histogram */}
      <div style={{ position: 'absolute', left: 0, top: P.hist.top }}>
        <ComposedChart width={W} height={P.hist.h} data={rows} margin={M}>
          {grids([-7.5, -5, -2.5, 0, 2.5, 5])}
          {xAxis(false)}
          {yAxis(P.hist.dom, [-7.5, -5, -2.5, 0, 2.5, 5], (v) => v.toFixed(1))}
          <Bar dataKey="hist" barSize={4.5} fill="#4b9ccc" stroke="#215b84" strokeWidth={1} isAnimationActive={false} />
          {tags([[-4.033, '-4.033', '#2f5f8f']])}
        </ComposedChart>
      </div>

      {/* Full stochastics */}
      <div style={{ position: 'absolute', left: 0, top: P.sto.top }}>
        <ComposedChart width={W} height={P.sto.h} data={rows} margin={M}>
          {grids([0, 10, 20, 30, 40, 50, 60, 70, 80, 90, 100])}
          {xAxis(false)}
          {yAxis(P.sto.dom, [20, 50, 80], fmtInt)}
          <ReferenceLine y={80} stroke="#6e6e78" strokeWidth={1.4} />
          <ReferenceLine y={20} stroke="#6e6e78" strokeWidth={1.4} />
          <ReferenceLine y={50} stroke="#6e6e78" strokeWidth={1.2} strokeDasharray="7 3 2 3" />
          <Line dataKey="d" stroke="#ff1010" strokeWidth={1} dot={false} isAnimationActive={false} />
          <Line dataKey="k" stroke="#000" strokeWidth={2} dot={false} isAnimationActive={false} />
          {tags([[32.18, '32.18', '#d0103a'], [16.12, '16.12', '#000']])}
        </ComposedChart>
      </div>

      {/* ADX */}
      <div style={{ position: 'absolute', left: 0, top: P.adx.top }}>
        <ComposedChart width={W} height={P.adx.h + 17} data={rows} margin={M}>
          {grids([10, 15, 20, 25, 30, 35, 40])}
          {xAxis(true)}
          {yAxis(P.adx.dom, [10, 15, 20, 25, 30, 35, 40], fmtInt)}
          <Line dataKey="pdi" stroke="#3a6a48" strokeWidth={1} dot={false} isAnimationActive={false} />
          <Line dataKey="mdi" stroke="#a8163f" strokeWidth={1} dot={false} isAnimationActive={false} />
          <Line dataKey="adx" stroke="#000" strokeWidth={2} dot={false} isAnimationActive={false} />
          {tags([[19.78, '19.78', '#2e6b3a'], [21.02, '21.02', '#a8163f'], [17.1, '17.10', '#000']])}
        </ComposedChart>
      </div>

      {/* panel frames */}
      <Frame top={P.rsi.top} h={P.rsi.h} />
      <Frame top={P.price.top} h={P.price.h} />
      <Frame top={P.macd.top} h={P.macd.h} />
      <Frame top={P.hist.top} h={P.hist.h} />
      <Frame top={P.sto.top} h={P.sto.h} />
      <Frame top={P.adx.top} h={P.adx.h} />

      {/* legends */}
      <Abs x={20} y={31} style={lg}><Mountain />RSI(14) 46.31</Abs>
      <Abs x={20} y={176} style={lg}>
        <div><Mountain />$RUT (Daily) 1172.09</div>
        <div style={{ color: '#a0a0a8' }}><Mountain />BB(20,2.0) 1168.29 - 1190.84 - 1213.40</div>
        <div style={{ color: '#cc1a3c' }}>{dash('#cc1a3c')}MA(10) 1186.82</div>
        <div style={{ color: '#21592c' }}>{dash('#21592c')}MA(50) 1163.64</div>
        <div style={{ color: '#ff00ff' }}>{dash('#ff00ff')}MA(100) 1145.47</div>
        <div style={{ color: '#9933ff' }}>{dash('#9933ff')}MA(200) 1094.58</div>
      </Abs>
      <Abs x={20} y={605} style={lg}>
        {dash('#000')}MACD(12,26,9) 5.171<span style={{ color: '#e0102a' }}>, 9.204</span>
        <span style={{ color: '#5b9bd0' }}>, -4.033</span>
      </Abs>
      <Abs x={20} y={750} style={lg}><BarsIcon />MACD(12,26,9) Hist -4.033</Abs>
      <Abs x={20} y={895} style={lg}>
        {dash('#000')}Full STO %K(14,3) %D(3) 16.12, <span style={{ color: '#e0102a' }}>32.18</span>
      </Abs>
      <Abs x={20} y={1040} style={lg}>
        {dash('#000')}ADX(14) 17.10 <span style={{ color: '#2e6b3a' }}>+DI 19.78</span>{' '}
        <span style={{ color: '#a8163f' }}>-DI 21.02</span>
      </Abs>

      {/* annotation box */}
      <div style={{ position: 'absolute', left: 428, top: 193, width: 174, height: 45, background: '#fff',
        border: '1px solid #999', boxShadow: '2px 2px 0 #9a9a9a', boxSizing: 'border-box',
        fontFamily: '"Liberation Sans", Arial, sans-serif', fontWeight: 'bold', fontSize: 14,
        lineHeight: '20px', padding: '2px 0 0 3px', color: '#000' }}>
        Russell 2000 small cap<br />Daily, 8mth
      </div>
    </div>
  );
}
